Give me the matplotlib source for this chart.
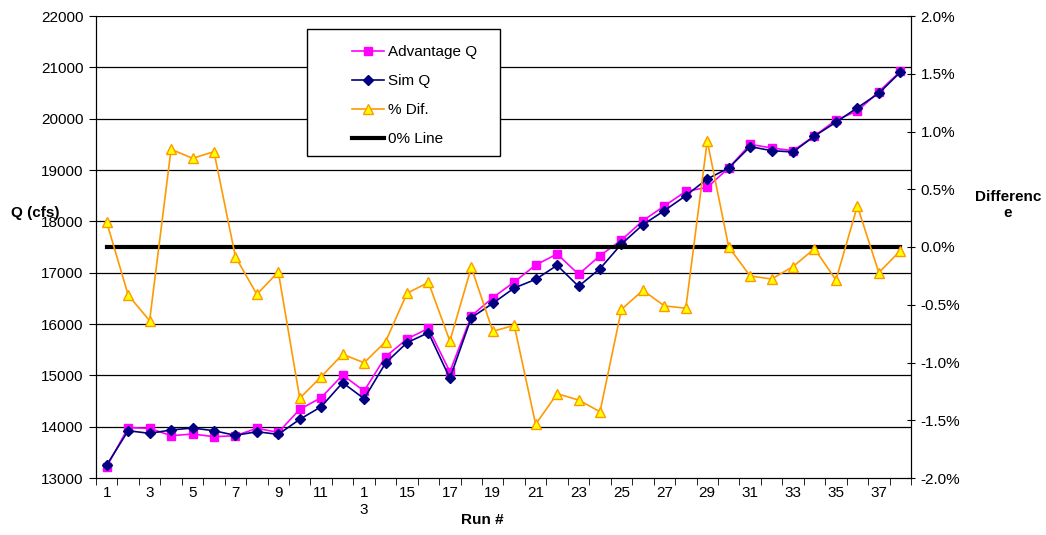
import matplotlib
matplotlib.use("Agg")
import matplotlib.pyplot as plt
from matplotlib.patches import Rectangle
from matplotlib.ticker import FuncFormatter, MultipleLocator, FixedLocator

plt.rcParams['font.family'] = ['Liberation Sans', 'DejaVu Sans']

runs = list(range(1, 39))
advantage_q = [13220, 13980, 13968, 13824, 13857, 13805, 13824, 13968, 13889, 14338,
               14565, 15006, 14695, 15363, 15708, 15916, 15071, 16156, 16513, 16818,
               17149, 17364, 16968, 17331, 17636, 18013, 18299, 18584, 18662, 19039,
               19500, 19429, 19377, 19662, 19974, 20149, 20526, 20920]
sim_q = [13253, 13921, 13870, 13935, 13974, 13921, 13830, 13902, 13850, 14143,
         14389, 14857, 14545, 15240, 15636, 15831, 14942, 16123, 16403, 16701,
         16870, 17143, 16734, 17078, 17558, 17935, 18208, 18500, 18825, 19039,
         19455, 19377, 19351, 19662, 19929, 20214, 20494, 20905]
pct_dif = [0.214, -0.416, -0.638, 0.846, 0.768, 0.825, -0.084, -0.410, -0.215, -1.310,
           -1.123, -0.929, -1.002, -0.820, -0.401, -0.306, -0.814, -0.176, -0.730, -0.678,
           -1.535, -1.270, -1.325, -1.426, -0.540, -0.375, -0.510, -0.530, 0.918, 0.000,
           -0.251, -0.277, -0.170, -0.014, -0.286, 0.355, -0.222, -0.032]
zero_line = [0.0] * len(runs)
x_tick_pos = list(range(1, 39, 2))
x_tick_labels = [str(v) if v != 13 else "1\n3" for v in x_tick_pos]

fig = plt.figure(figsize=(10.46, 5.35), dpi=100)
ax = fig.add_axes([96/1046, 1-478/535, (911-96)/1046, (478-16)/535])
ax2 = ax.twinx()

ax.set_ylim(13000, 22000)
ax.set_xlim(0.5, 38.5)
ax.yaxis.set_major_locator(MultipleLocator(1000))
for yv in range(14000, 22001, 1000):
    ax.axhline(yv, color='black', lw=0.9, zorder=0)

l1, = ax.plot(runs, advantage_q, color='#FF00FF', lw=1.2, marker='s', ms=6,
              mfc='#FF00FF', mec='#FF00FF', label='Advantage Q', zorder=3)
l2, = ax.plot(runs, sim_q, color='#000080', lw=1.2, marker='D', ms=5,
              mfc='#000080', mec='#000080', label='Sim Q', zorder=4)

ax2.set_ylim(-2.0, 2.0)
ax2.yaxis.set_major_locator(MultipleLocator(0.5))
ax2.yaxis.set_major_formatter(FuncFormatter(lambda v, p: f"{v:.1f}%".replace('\u2212', '-')))
l3, = ax2.plot(runs, pct_dif, color='#FF9900', lw=1.2, marker='^', ms=7,
               mfc='#FFFF00', mec='#FF9900', mew=1.0, label='% Dif.', zorder=3)
l4, = ax2.plot(runs, zero_line, color='black', lw=3, label='0% Line', zorder=2)

# x axis ticks: labels at odd runs, tick marks at category boundaries
ax.xaxis.set_major_locator(FixedLocator(x_tick_pos))
ax.set_xticklabels(x_tick_labels, fontsize=11)
ax.tick_params(axis='x', which='major', length=0, pad=6)
ax.xaxis.set_minor_locator(FixedLocator([i + 0.5 for i in range(0, 39)]))
ax.tick_params(axis='x', which='minor', length=5, direction='out', color='black')

ax.tick_params(axis='y', which='major', length=5, direction='out', labelsize=11, pad=4)
ax2.tick_params(axis='y', which='major', length=6, direction='inout', labelsize=11, pad=4)

for a in (ax, ax2):
    a.spines['top'].set_visible(False)
    a.spines['left'].set_color('black')
    a.spines['right'].set_color('black')
    a.spines['bottom'].set_color('black')

fig.text(35/1046, 1-213/535, "Q (cfs)", fontsize=11, fontweight='bold', ha='center', va='center')
fig.text(1008/1046, 1-205/535, "Differenc\ne", fontsize=11, fontweight='bold', ha='center', va='center', linespacing=1.1)
fig.text(482/1046, 1-520/535, "Run #", fontsize=11, fontweight='bold', ha='center', va='center')

# legend box
box = Rectangle(((307-96)/815, (478-156)/462), (500-307)/815, (156-29)/462,
                transform=ax2.transAxes, facecolor='white', edgecolor='black',
                lw=1.0, zorder=9)
ax2.add_patch(box)
leg = ax2.legend(handles=[l1, l2, l3, l4], loc='upper left',
                 bbox_to_anchor=((352-96)/815, (478-45)/462),
                 fontsize=11, frameon=False,
                 handlelength=2.1, borderaxespad=0, labelspacing=0.98,
                 borderpad=0, handletextpad=0.25)
leg.set_zorder(10)

fig.savefig("out.png", dpi=100)
